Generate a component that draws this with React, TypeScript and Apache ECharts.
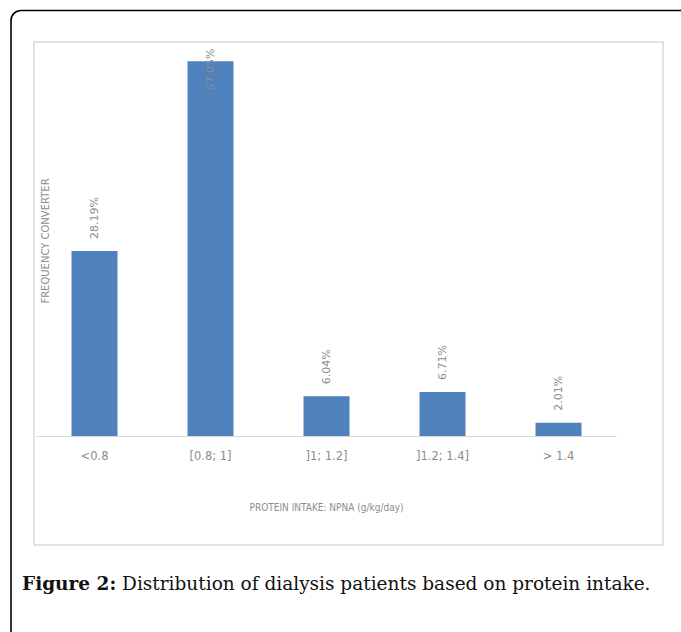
import React, { useEffect, useRef } from "react";
import * as echarts from "echarts";

const categories = ["<0.8", "[0.8; 1]", "]1; 1.2]", "]1.2; 1.4]", "> 1.4"];
const percentages = [28.19, 57.05, 6.04, 6.71, 2.01];
const yAxisTitle = "FREQUENCY CONVERTER";
const xAxisTitle = "PROTEIN INTAKE: NPNA (g/kg/day)";
const captionBold = "Figure 2:";
const captionText = " Distribution of dialysis patients based on protein intake.";

export default function App() {
  const ref = useRef<HTMLDivElement>(null);

  useEffect(() => {
    if (!ref.current) return;
    const chart = echarts.init(ref.current, null, { renderer: "svg" });
    const maxIdx = percentages.indexOf(Math.max(...percentages));
    const labelColor = "#8c8c8c";
    chart.setOption({
      animation: false,
      backgroundColor: "#ffffff",
      grid: { left: 36.5, right: 64.5, top: 42, bottom: 196, containLabel: false },
      xAxis: {
        type: "category",
        data: categories,
        axisLine: { show: true, lineStyle: { color: "#d9d9d9", width: 1 } },
        axisTick: { show: false },
        axisLabel: {
          color: labelColor,
          fontSize: 11.5,
          fontFamily: "DejaVu Sans",
          margin: 14,
          interval: 0,
        },
        name: xAxisTitle,
        nameLocation: "middle",
        nameGap: 66,
        nameTextStyle: {
          color: "#8c8c8c",
          fontSize: 10,
          fontFamily: "'Liberation Sans Narrow', 'DejaVu Sans Condensed', sans-serif",
        },
      },
      yAxis: {
        type: "value",
        min: 0,
        max: 60,
        show: false,
        splitLine: { show: false },
      },
      series: [
        {
          type: "bar",
          barWidth: 46,
          itemStyle: { color: "#4f81bd" },
          label: {
            show: true,
            position: "top",
            rotate: 90,
            align: "left",
            verticalAlign: "middle",
            distance: 12,
            color: labelColor,
            fontSize: 11,
            fontFamily: "DejaVu Sans",
            formatter: (p: any) => p.value.toFixed(2) + "%",
          },
          data: percentages.map((v, i) =>
            i === maxIdx ? { value: v, label: { distance: -29 } } : v
          ),
        },
      ],
      graphic: [
        {
          type: "rect",
          shape: { x: 11, y: 10.5, width: 720, height: 720, r: 10 },
          style: { fill: "none", stroke: "#000000", lineWidth: 1.6 },
          silent: true,
        },
        {
          type: "rect",
          shape: { x: 34, y: 42, width: 629, height: 503 },
          style: { fill: "none", stroke: "#d9d9d9", lineWidth: 1.5 },
          silent: true,
        },
        {
          type: "text",
          x: 45,
          y: 241,
          rotation: Math.PI / 2,
          style: {
            text: yAxisTitle,
            fill: "#8c8c8c",
            fontSize: 10,
            fontFamily: "DejaVu Sans",
            align: "center",
            verticalAlign: "middle",
          },
        },
        {
          type: "text",
          x: 22,
          y: 583,
          style: {
            text: "{b|" + captionBold + "}" + captionText,
            fill: "#111111",
            fontSize: 18.5,
            fontFamily: "'DejaVu Serif', serif",
            verticalAlign: "middle",
            rich: {
              b: {
                fontWeight: "bold",
                fontSize: 18.5,
                fontFamily: "'DejaVu Serif', serif",
                fill: "#111111",
              },
            },
          },
        },
      ],
    });
    return () => chart.dispose();
  }, []);

  return (
    <div
      style={{
        position: "absolute",
        left: 0,
        top: 0,
        width: 681,
        height: 632,
        background: "#ffffff",
        overflow: "hidden",
      }}
    >
      <div ref={ref} style={{ width: 681, height: 632 }} />
    </div>
  );
}
